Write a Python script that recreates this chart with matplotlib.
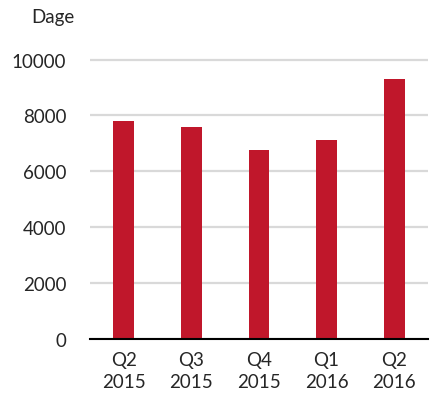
import matplotlib.pyplot as plt

# data
quarters = ['Q2\n2015', 'Q3\n2015', 'Q4\n2015', 'Q1\n2016', 'Q2\n2016']
dage = [7820, 7580, 6770, 7120, 9310]
yticks = [0, 2000, 4000, 6000, 8000, 10000]

plt.rcParams['font.family'] = ['Lato', 'DejaVu Sans']

fig = plt.figure(figsize=(4.31, 4.06), dpi=100)
ax = fig.add_axes([90 / 431, 66 / 406, 338 / 431, 285 / 406])

x = range(len(quarters))
ax.bar(x, dage, width=0.31, color='#C0172B', zorder=3)

ax.set_xlim(-0.5, len(quarters) - 0.5)
ax.set_ylim(0, 10200)
ax.set_yticks(yticks)
ax.set_yticklabels([str(t) for t in yticks])
ax.set_xticks(list(x))
ax.set_xticklabels(quarters, linespacing=1.35)
ax.grid(axis='y', color='#D9D9D9', linewidth=1.6, zorder=0)

for s in ['top', 'right', 'left']:
    ax.spines[s].set_visible(False)
ax.spines['bottom'].set_color('black')
ax.spines['bottom'].set_linewidth(1.5)
ax.spines['bottom'].set_zorder(4)
ax.tick_params(axis='both', length=0, labelsize=13.5, colors='#262626')
ax.tick_params(axis='y', pad=17)
ax.tick_params(axis='x', pad=9)

fig.text(53 / 431, 1 - 18 / 406, 'Dage', ha='center', va='center', fontsize=13.5, color='#262626')

fig.savefig('out.png', dpi=100)
